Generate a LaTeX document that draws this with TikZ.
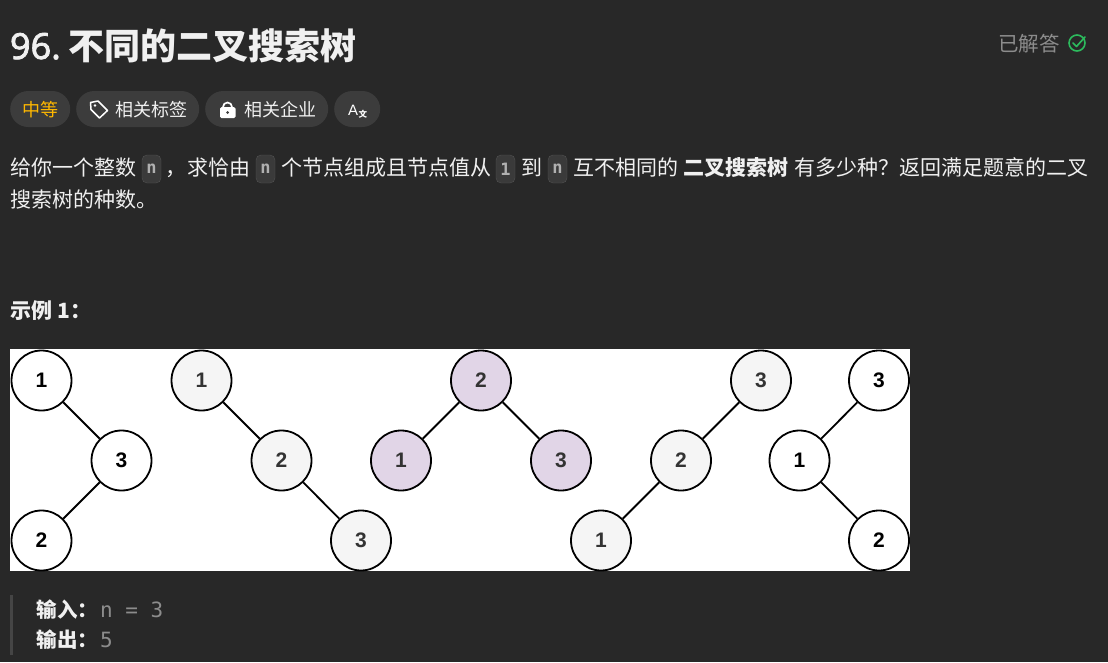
\documentclass[tikz,border=0pt]{standalone}
\usepackage{fontspec}
\setmainfont{Noto Sans CJK SC}
\newfontfamily\latinfont{Liberation Sans}
\newfontfamily\notofont[FakeBold=2]{Noto Sans}
\newfontfamily\codefont{DejaVu Sans Mono}
\usetikzlibrary{arrows.meta, positioning, calc}
\definecolor{pageBg}{HTML}{282828}
\definecolor{pillBg}{HTML}{3C3C3C}
\definecolor{codeBg}{HTML}{3A3A3A}
\definecolor{codeLine}{HTML}{525252}
\definecolor{codeInk}{HTML}{B0B0B0}
\definecolor{inkText}{HTML}{F0F0F0}
\definecolor{inkGrey}{HTML}{8C8C8C}
\definecolor{hardGold}{HTML}{FFB800}
\definecolor{doneGreen}{HTML}{2CBB5D}
\definecolor{softFill}{HTML}{F5F5F5}
\definecolor{softInk}{HTML}{333333}
\definecolor{lilacFill}{HTML}{E1D5E7}
\definecolor{quoteBar}{HTML}{454545}

\begin{document}
\begin{tikzpicture}[x=1pt, y=-1pt,
   txt/.style={anchor=base west, inner sep=0pt, outer sep=0pt, text=inkText,
               font=\fontsize{21}{21}\selectfont},
   tagtxt/.style={txt, font=\fontsize{18}{18}\selectfont},
   pill/.style={rectangle, rounded corners=18pt, fill=pillBg, minimum height=36pt,
                inner sep=0pt, anchor=west},
   code/.style={rectangle, rounded corners=5pt, draw=codeLine, fill=codeBg,
                text=codeInk, minimum width=19pt, minimum height=28pt, inner sep=0pt,
                font=\codefont\bfseries\fontsize{17}{17}\selectfont},
   plain/.style={circle, draw=black, line width=1.8pt, fill=white, minimum size=60pt,
                 inner sep=0pt, text=black, font=\latinfont\bfseries\fontsize{21}{21}\selectfont},
   soft/.style={plain, fill=softFill, text=softInk},
   lilac/.style={plain, fill=lilacFill, text=softInk}]

\fill[pageBg] (0,0) rectangle (1108,662);
\useasboundingbox (0,0) rectangle (1108,662);

% heading
\node[txt, font=\notofont\fontsize{36}{36}\selectfont] (num) at (10,59) {96.};
\node[txt, font=\bfseries\fontsize{36}{36}\selectfont] (title) at (68,59) {不同的二叉搜索树};
\node[txt, text=inkGrey, font=\fontsize{20.5}{21}\selectfont] (solved) at (998,51) {已解答};
\node[circle, draw=doneGreen, line width=1.6pt, minimum size=16pt, inner sep=0pt] (ring) at (1077,43) {};
\draw[doneGreen, line width=1.6pt, line cap=round, line join=round]
  (1073,43) -- (1076.5,46.5) -- (1085,37);

% pills
\node[pill, minimum width=60pt] (pa) at (10,109) {};
\node[pill, minimum width=123pt] (pb) at (76,109) {};
\node[pill, minimum width=123pt] (pc) at (205,109) {};
\node[pill, minimum width=46pt] (pd) at (334,109) {};
\node[tagtxt, text=hardGold] (level) at (22,116) {中等};
\node[tagtxt] (tags) at (115,116) {相关标签};
\node[tagtxt] (firms) at (244,116) {相关企业};
\node[txt, text=white, font=\latinfont\fontsize{15}{15}\selectfont] (ax) at (348,115.5) {A};
\node[txt, text=white, font=\bfseries\fontsize{8.5}{9}\selectfont] (wen) at (358.5,117) {文};
% tag icon
\draw[white, line width=1.5pt, line join=round]
  (90.5,102.5) -- (98,101) -- (107.5,110.5) -- (99.5,118) -- (91,109.5) -- cycle;
\fill[white] (95,105.5) circle (1.3pt);
% lock icon
\draw[white, line width=1.7pt] (223,107) arc[start angle=180, end angle=0, x radius=4.5pt, y radius=4.5pt];
\fill[white, rounded corners=1.5pt] (220,107) rectangle (235.5,118);
\fill[pillBg] (227.7,112.5) circle (1.5pt);

% description
\node[txt] (d1) at (10,175) {给你一个整数};
\node[code] (c1) at (151.5,169) {n};
\node[txt] (d2) at (165,175) {，};
\node[txt] (d3) at (187,175) {求恰由};
\node[code] (c2) at (265.5,169) {n};
\node[txt] (d4) at (281,175) {个节点组成且节点值从};
\node[code] (c3) at (505.5,169) {1};
\node[txt] (d5) at (521,175) {到};
\node[code] (c4) at (557.5,169) {n};
\node[txt] (d6) at (573,175) {互不相同的};
\node[txt, font=\bfseries\fontsize{21}{21}\selectfont] (d7) at (683,175) {二叉搜索树};
\node[txt] (d8) at (794,175) {有多少种？返回满足题意的二叉};
\node[txt] (d9) at (10,207) {搜索树的种数。};

\node[txt, font=\bfseries\fontsize{21}{21}\selectfont] (ex) at (10,318) {示例\hspace{6pt}1：};

% trees
\fill[white] (10,349) rectangle (910,571);

\node[plain] (a1) at (41.5,380.5) {1};
\node[plain] (a3) at (121.5,460.5) {3};
\node[plain] (a2) at (41.5,540.5) {2};
\node[soft] (b1) at (201.5,380.5) {1};
\node[soft] (b2) at (281.5,460.5) {2};
\node[soft] (b3) at (361,540.5) {3};
\node[lilac] (c2n) at (481,380.5) {2};
\node[lilac] (c1n) at (401,460.5) {1};
\node[lilac] (c3n) at (561,460.5) {3};
\node[soft] (d3n) at (761,380.5) {3};
\node[soft] (d2n) at (681,460.5) {2};
\node[soft] (d1n) at (601,540.5) {1};
\node[plain] (e3) at (879,380.5) {3};
\node[plain] (e1) at (799.5,460.5) {1};
\node[plain] (e2) at (879,540.5) {2};

\foreach \s/\t in {a1/a3,a3/a2,b1/b2,b2/b3,c2n/c1n,c2n/c3n,d3n/d2n,d2n/d1n,e3/e1,e1/e2}
  \draw[black, line width=1.8pt] (\s) -- (\t);

% sample
\fill[quoteBar] (10,595) rectangle (13,655);
\node[txt, font=\bfseries\fontsize{20.5}{21}\selectfont] (inp) at (36.5,617) {输入：};
\node[txt, text=inkGrey, font=\codefont\fontsize{21}{21}\selectfont] (inv) at (100,617) {n = 3};
\node[txt, font=\bfseries\fontsize{20.5}{21}\selectfont] (outp) at (36.5,647) {输出：};
\node[txt, text=inkGrey, font=\codefont\fontsize{21}{21}\selectfont] (outv) at (100,647) {5};
\end{tikzpicture}
\end{document}
